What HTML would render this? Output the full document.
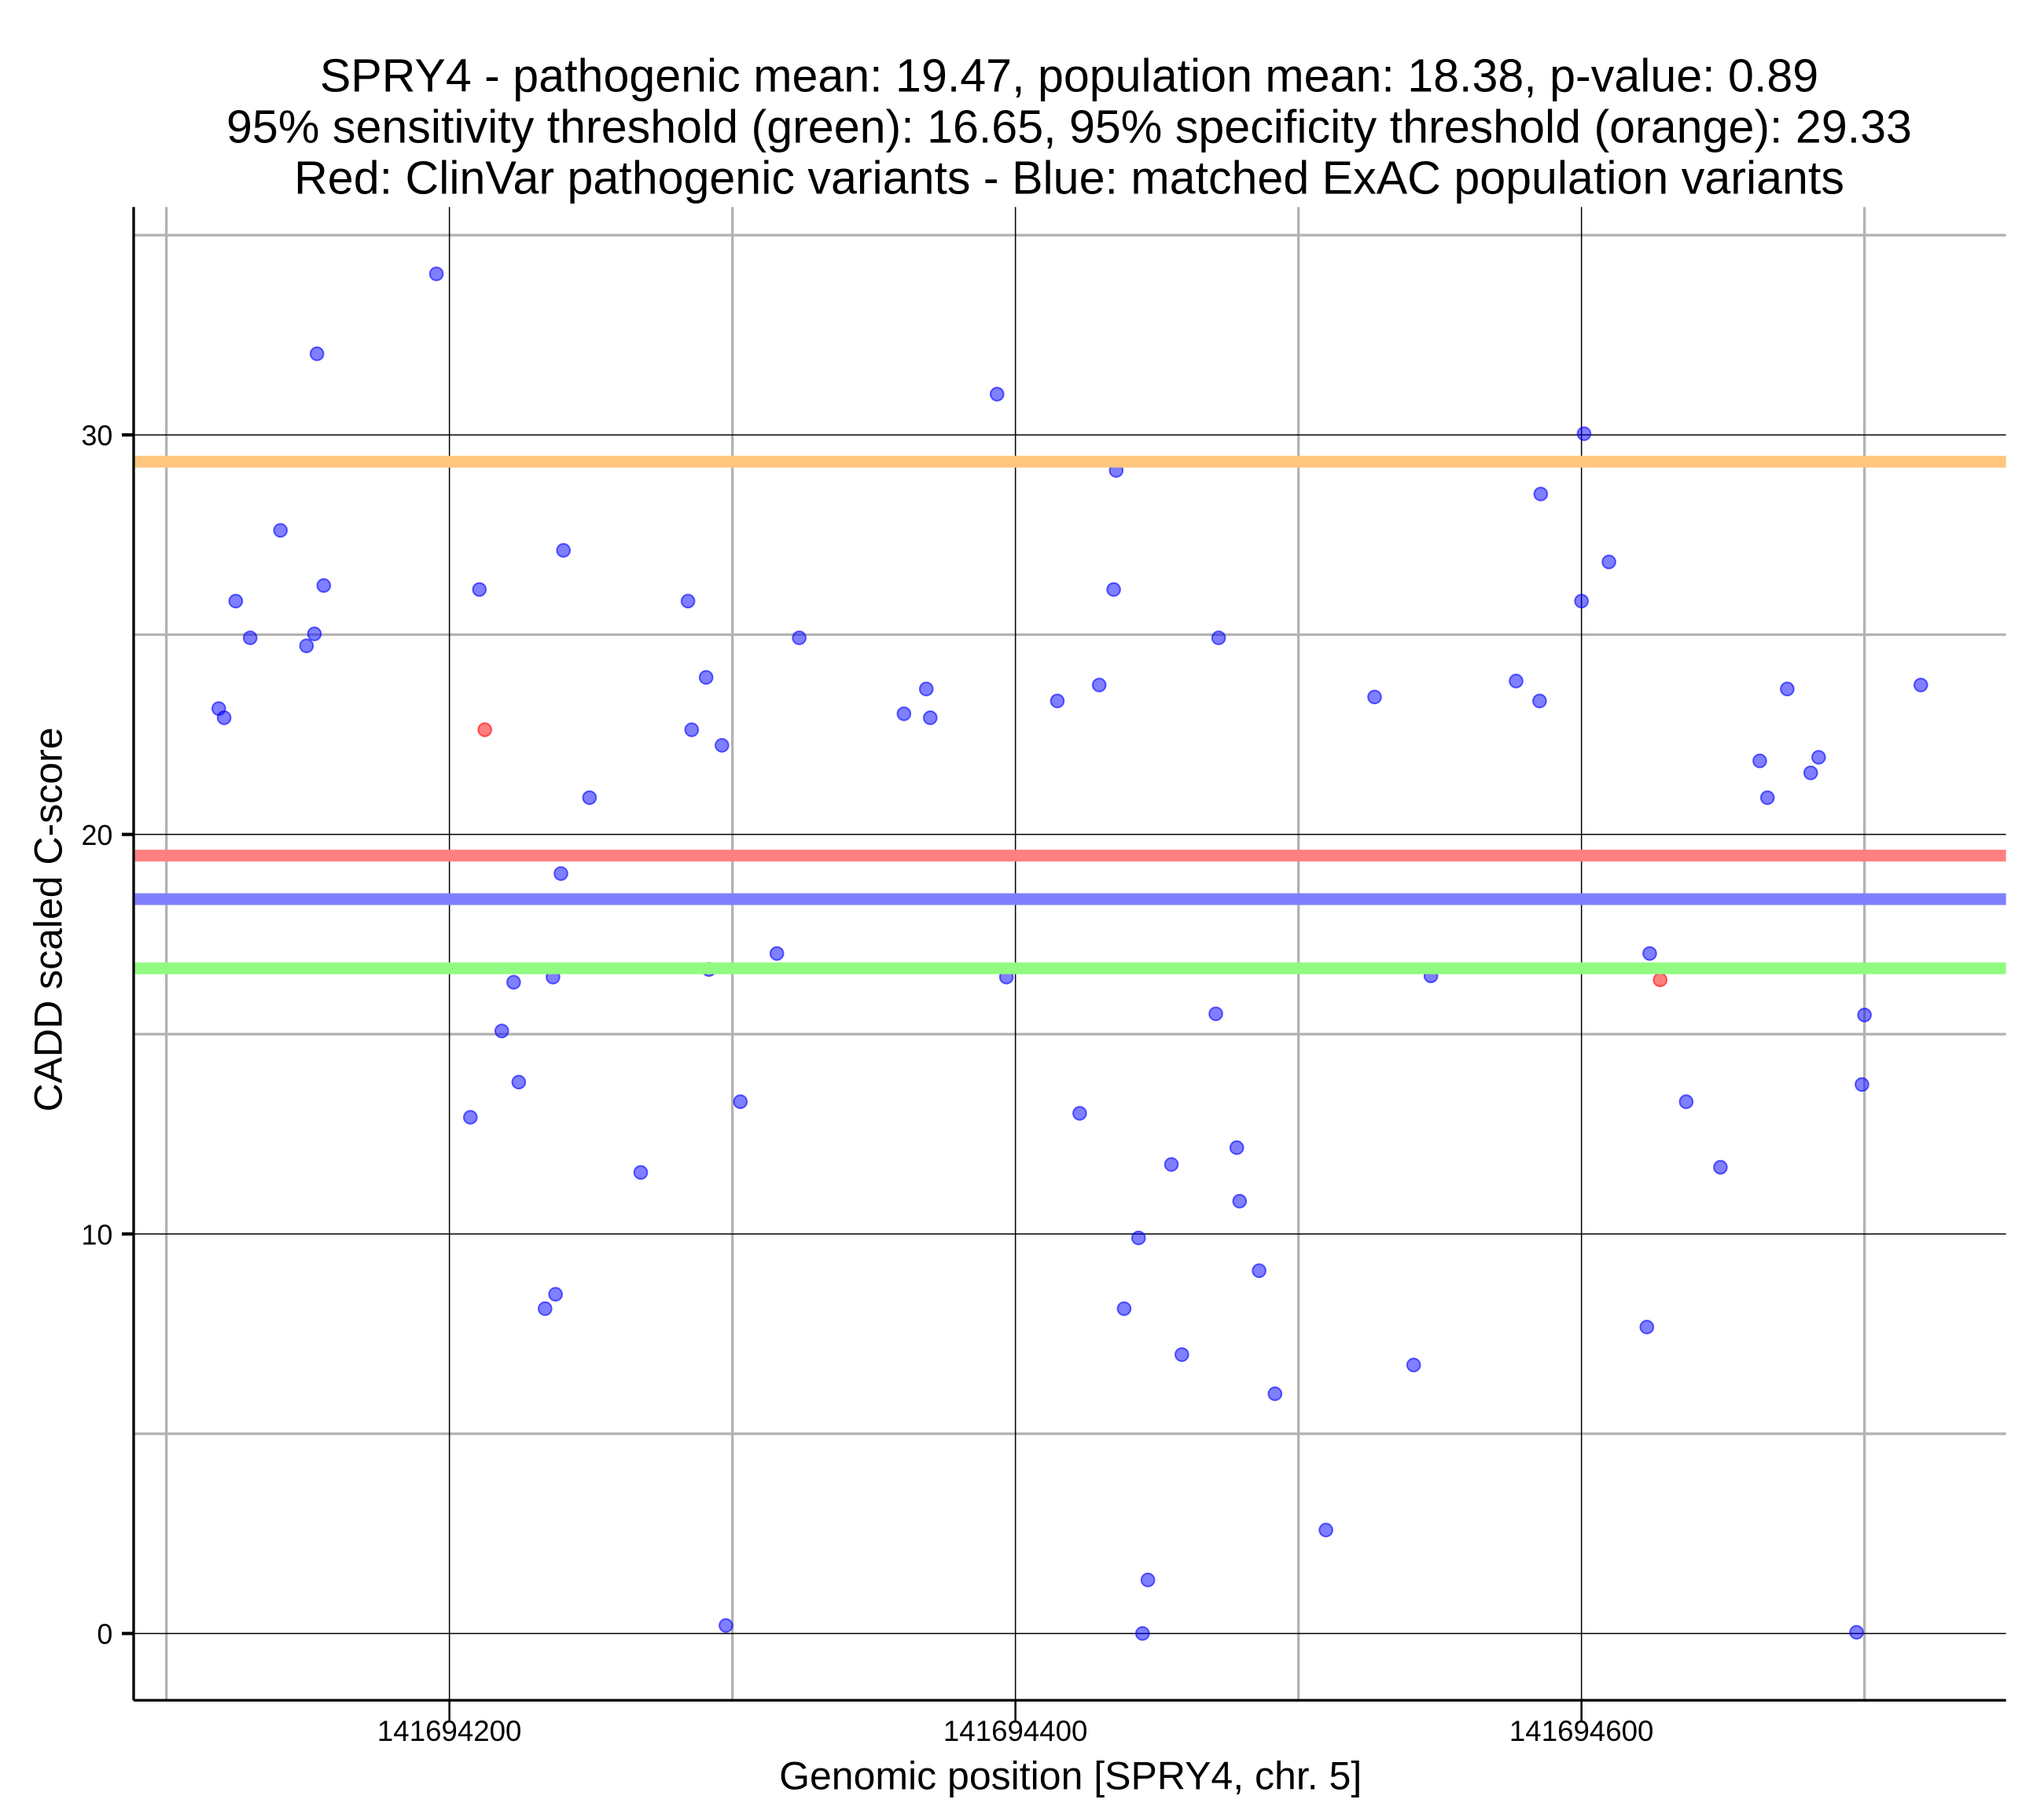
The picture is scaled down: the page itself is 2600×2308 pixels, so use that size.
<!DOCTYPE html>
<html><head><meta charset="utf-8"><style>
html,body{margin:0;padding:0;background:#fff}
svg{display:block}
text{font-family:"Liberation Sans",Arial,sans-serif;fill:#000}
</style></head><body>
<svg id="chart" width="2600" height="2308" viewBox="0 0 1560 1384.8" xmlns="http://www.w3.org/2000/svg">
<g id="title">
<text x="816" y="70" font-size="35.5" text-anchor="middle">SPRY4 - pathogenic mean: 19.47, population mean: 18.38, p-value: 0.89</text>
<text x="816" y="109" font-size="35.5" text-anchor="middle">95% sensitivity threshold (green): 16.65, 95% specificity threshold (orange): 29.33</text>
<text x="816" y="148" font-size="35.5" text-anchor="middle">Red: ClinVar pathogenic variants - Blue: matched ExAC population variants</text>
</g>
<g id="grid"></g>
<g id="points"></g>
<g id="hlines"></g>
<g id="axes"></g>
<text x="817" y="1366" font-size="30" text-anchor="middle">Genomic position [SPRY4, chr. 5]</text>
<text transform="translate(47,702) rotate(-90)" font-size="30" text-anchor="middle">CADD scaled C-score</text>
</svg>
<script>
const BASE = 141694000;
const xMajorTicks = [200, 400, 600];
const xMinorTicks = [100, 300, 500, 700];
const yMajorTicks = [0, 10, 20, 30];
const yMinorTicks = [5, 15, 25, 35];
const thresholdNames = ['orange-specificity','red-pathogenic-mean','blue-population-mean','green-sensitivity'];
const thresholdValues = [29.33, 19.47, 18.38, 16.65];
const thresholdColors = ['#fdc67f','#ff8080','#8080ff','#90fb80'];
const pathoX = [212.5, 627.8];
const pathoY = [22.62, 16.36];
const popX = [195.4,153.2,393.5,600.9,435.6,585.6,140.3,240.3,609.7,155.6,210.6,434.7,124.5,284.3,600,129.6,152.3,149.5,323.6,471.8,290.7,576.9,429.6,719.9,368.5,672.7,526.9,414.8,585.2,118.5,120.4,360.6,369.9,285.6,296.3,663,683.8,681,665.7,249.5,239.4,315.7,624.1,291.7,236.6,396.8,546.8,222.7,470.8,700,218.5,224.5,699.1,302.8,637,207.4,422.7,478.2,455.1,649.1,267.6,479.2,443.5,486.1,237.5,233.8,438.4,623.1,458.8,540.7,491.7,509.7,446.8,297.7,444.9,697.2];
const popY = [34.03,32.03,31.02,30.03,29.11,28.52,27.61,27.11,26.82,26.23,26.13,26.13,25.84,25.84,25.84,24.92,25.02,24.72,24.92,24.92,23.93,23.84,23.74,23.74,23.64,23.64,23.44,23.34,23.34,23.15,22.92,23.02,22.92,22.62,22.23,21.84,21.93,21.54,20.92,20.92,19.02,17.02,17.02,16.62,16.43,16.43,16.46,16.30,15.51,15.48,15.08,13.80,13.74,13.31,13.31,12.92,13.02,12.16,11.74,11.67,11.54,10.82,9.90,9.08,8.49,8.13,8.13,7.67,6.98,6.72,6.0,2.59,1.34,0.20,0,0.03];

const L=102,R=1531,T=158,B=1298;
const X = v => 343 + (v-200)*2.16;
const Y = v => 1247 - v*30.5;
const NS='http://www.w3.org/2000/svg';
function mk(tag, parent, attrs){const e=document.createElementNS(NS,tag);for(const k in attrs)e.setAttribute(k,attrs[k]);parent.appendChild(e);return e;}
const grid=document.getElementById('grid'), pts=document.getElementById('points'), hl=document.getElementById('hlines'), ax=document.getElementById('axes');
xMinorTicks.forEach(v=>{const e=mk('line',grid,{x1:X(v),x2:X(v),y1:T,y2:B,stroke:'#b3b3b3','stroke-width':2});

});
yMinorTicks.forEach(v=>{const e=mk('line',grid,{x1:L,x2:R,y1:Y(v),y2:Y(v),stroke:'#b3b3b3','stroke-width':2});

});
xMajorTicks.forEach(v=>{const e=mk('line',grid,{x1:X(v),x2:X(v),y1:T,y2:B,stroke:'#000','stroke-width':0.9});

});
yMajorTicks.forEach(v=>{const e=mk('line',grid,{x1:L,x2:R,y1:Y(v),y2:Y(v),stroke:'#000','stroke-width':0.9});

});
popX.forEach((x,i)=>{const e=mk('ellipse',pts,{cx:X(x),cy:Y(popY[i]),rx:5,ry:5,fill:'rgba(0,0,255,0.5)',stroke:'rgba(0,0,255,0.6)','stroke-width':1.2});

});
pathoX.forEach((x,i)=>{const e=mk('ellipse',pts,{cx:X(x),cy:Y(pathoY[i]),rx:5,ry:5,fill:'rgba(255,0,0,0.5)',stroke:'rgba(255,0,0,0.6)','stroke-width':1.2});

});
thresholdValues.forEach((v,i)=>{const e=mk('line',hl,{x1:L+1,x2:R,y1:Y(v),y2:Y(v),stroke:thresholdColors[i],'stroke-width':9});

});
let e=mk('line',ax,{x1:L,x2:L,y1:T,y2:B,stroke:'#000','stroke-width':2});


e=mk('line',ax,{x1:L,x2:R,y1:B,y2:B,stroke:'#000','stroke-width':2});


xMajorTicks.forEach(v=>{const t=mk('line',ax,{x1:X(v),x2:X(v),y1:B,y2:B+16,stroke:'#000','stroke-width':1.5});


const lb=mk('text',ax,{x:X(v),y:B+31,'font-size':22,'text-anchor':'middle'});lb.textContent=String(BASE+v);

});
yMajorTicks.forEach(v=>{const t=mk('line',ax,{x1:L-9,x2:L,y1:Y(v),y2:Y(v),stroke:'#000','stroke-width':2.5});


const lb=mk('text',ax,{x:L-16,y:Y(v)+8,'font-size':21.5,'text-anchor':'end'});lb.textContent=String(v);

});
</script>
</body></html>
